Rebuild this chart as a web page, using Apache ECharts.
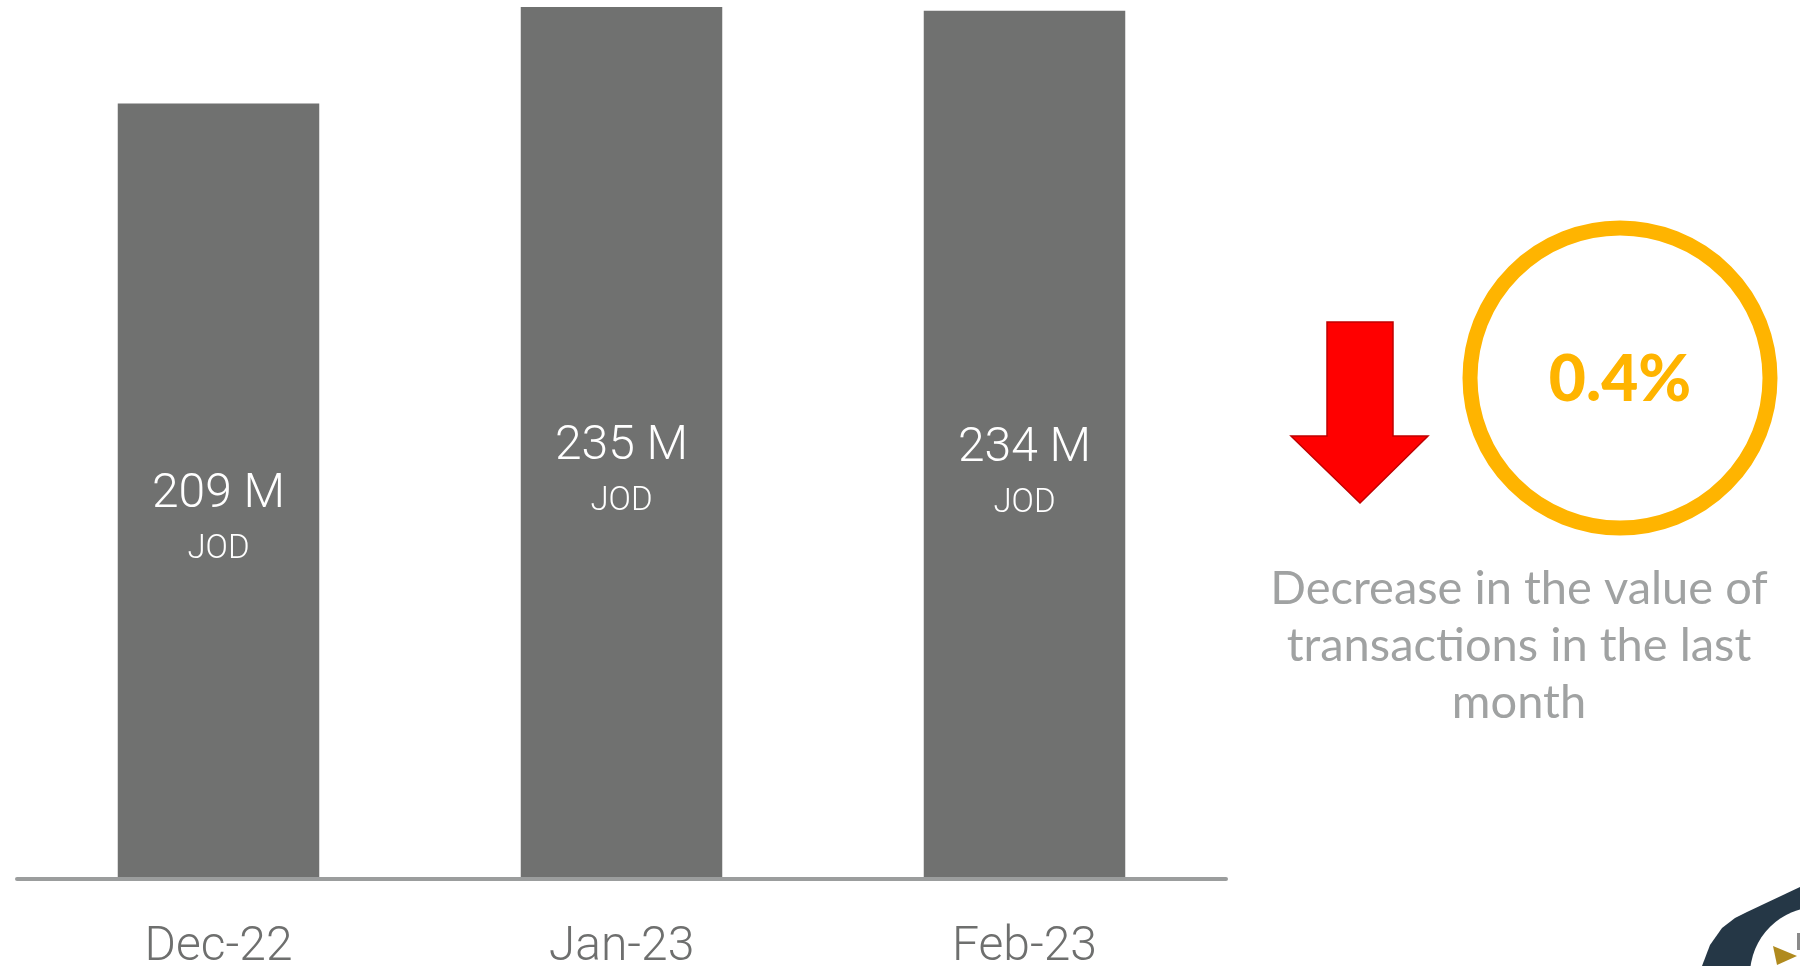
<!DOCTYPE html>
<html>
<head>
<meta charset="utf-8">
<script src="https://cdn.jsdelivr.net/npm/echarts@6/dist/echarts.min.js"></script>
<style>
html,body{margin:0;padding:0;background:#fff;}
#chart{width:1800px;height:966px;}
</style>
</head>
<body>
<div id="chart"></div>
<script>
const categories = ['Dec-22', 'Jan-23', 'Feb-23'];
const values = [209, 235, 234];
const valueUnit = 'M';
const currency = 'JOD';
const changeText = '0.4%';
const changeCaption = 'Decrease in the value of\ntransactions in the last\nmonth';

const chart = echarts.init(document.getElementById('chart'));
const thin = 'Roboto, "Liberation Sans", sans-serif';

chart.setOption({
  backgroundColor: '#ffffff',
  animation: false,
  grid: { left: 17, right: 574, top: 7, bottom: 87, containLabel: false, outerBoundsMode: 'none' },
  xAxis: {
    type: 'category',
    data: categories,
    axisLine: { show: true, lineStyle: { color: '#9b9d9d', width: 4 } },
    axisTick: { show: false },
    axisLabel: { color: '#6e6f6e', fontSize: 48, fontWeight: 300, fontFamily: thin, margin: 45 },
    z: 10
  },
  yAxis: {
    type: 'value', min: 0, max: 235, show: false,
    splitLine: { show: false }
  },
  series: [{
    type: 'bar',
    data: values,
    barWidth: '50%',
    itemStyle: { color: '#707170' },
    label: {
      show: true,
      position: 'inside',
      offset: [0, 30],
      formatter: p => `{v|${p.value} ${valueUnit}}\n{u|${currency}}`,
      rich: {
        v: { fontSize: 48, fontWeight: 300, color: '#ffffff', lineHeight: 58, fontFamily: thin },
        u: { fontSize: 33, fontWeight: 300, color: '#ffffff', lineHeight: 52, fontFamily: thin }
      }
    }
  }],
  graphic: [
    {
      type: 'polygon',
      shape: { points: [[1327,322],[1393,322],[1393,436],[1428,436],[1360,503],[1291,436],[1327,436]] },
      style: { fill: '#ff0000', stroke: '#c00000', lineWidth: 1.5 }
    },
    {
      type: 'circle',
      shape: { cx: 1620, cy: 378, r: 150 },
      style: { fill: 'none', stroke: '#ffb400', lineWidth: 15 }
    },
    {
      type: 'text',
      x: 1620, y: 380,
      style: {
        text: changeText, fill: '#ffb400',
        font: '900 64px Lato, "Open Sans", sans-serif',
        align: 'center', verticalAlign: 'middle'
      }
    },
    {
      type: 'text',
      x: 1519, y: 560,
      style: {
        text: changeCaption, fill: '#a0a2a2',
        font: '47px Lato, "Open Sans", sans-serif',
        lineHeight: 57,
        align: 'center', verticalAlign: 'top'
      }
    },
    {
      type: 'polygon',
      shape: { points: [[1702,966],[1710,945],[1722,928],[1735,918],[1747,912],[1800,887],[1800,966]] },
      style: { fill: '#253746' }
    },
    {
      type: 'circle',
      shape: { cx: 1818, cy: 975, r: 68 },
      style: { fill: '#ffffff' }
    },
    {
      type: 'polygon',
      shape: { points: [[1773,946],[1797,956],[1777,965]] },
      style: { fill: '#b08a1e' }
    },
    {
      type: 'rect',
      shape: { x: 1797, y: 933, width: 3, height: 17 },
      style: { fill: '#8a8a8a' }
    }
  ]
});
</script>
</body>
</html>
